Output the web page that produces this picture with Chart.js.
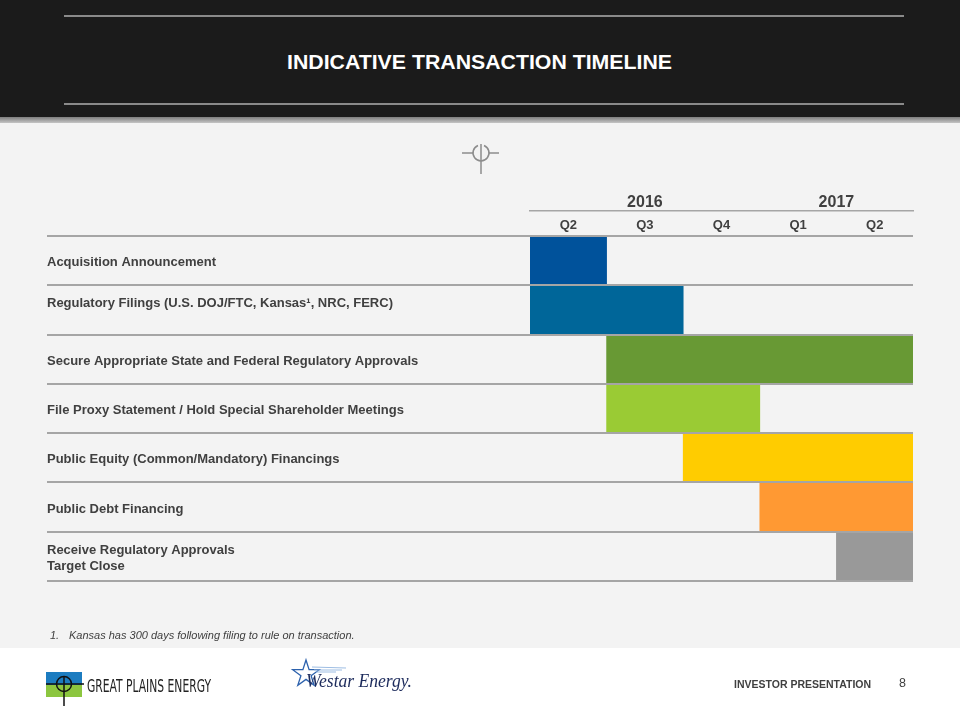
<!DOCTYPE html>
<html>
<head>
<meta charset="utf-8">
<script src="https://cdn.jsdelivr.net/npm/chart.js@4.4.1/dist/chart.umd.min.js"></script>
<style>
body{margin:0;width:960px;height:720px;position:relative;overflow:hidden;background:#fff;font-family:"Liberation Sans",Arial,sans-serif;}
#header{position:absolute;left:0;top:0;width:960px;height:118px;background:#1b1b1b;}
#shadow{position:absolute;left:0;top:117px;width:960px;height:6px;background:linear-gradient(#7e7e7e,#c4c4c4);}
#content{position:absolute;left:0;top:123px;width:960px;height:525px;background:#f3f3f3;}
.hline{position:absolute;left:64px;width:840px;height:2px;background:#8a8a8a;}
#top{position:absolute;left:0;top:0;}
#chartBox{position:absolute;left:0;top:123px;width:960px;height:525px;}
#note{position:absolute;left:50px;top:629px;font-size:11px;font-style:italic;color:#404040;}
#note span{display:inline-block;width:19px;}
#inv{position:absolute;left:734px;top:678px;font-size:10.5px;font-weight:bold;color:#404040;}
#page{position:absolute;left:899px;top:676px;font-size:12.5px;color:#404040;}
#logos{position:absolute;left:0;top:0;}
</style>
</head>
<body>
<div id="header"></div>
<div id="shadow"></div>
<div id="content"></div>
<div class="hline" style="top:15px"></div>
<div class="hline" style="top:103px"></div>

<!-- タイトルと小さいロゴマーク -->
<svg id="top" width="960" height="200">
  <text x="287" y="68.5" font-family="Liberation Sans, Arial, sans-serif" font-weight="bold" font-size="21" fill="#fff" textLength="385" lengthAdjust="spacingAndGlyphs">INDICATIVE TRANSACTION TIMELINE</text>
  <g stroke="#8c8c8c" stroke-width="1.5" fill="none">
    <line x1="462" y1="153" x2="473" y2="153"/>
    <line x1="489" y1="153" x2="499" y2="153"/>
    <path d="M 478 145.5 A 8 8 0 1 0 484 145.5"/>
    <line x1="481" y1="144" x2="481" y2="174"/>
  </g>
</svg>

<div id="chartBox"><canvas id="timeline" width="960" height="525"></canvas></div>

<div id="note"><span>1.</span>Kansas has 300 days following filing to rule on transaction.</div>

<!-- フッターのロゴ -->
<svg id="logos" width="960" height="720">
  <rect x="46" y="672" width="36" height="13" fill="#1c7cc0"/>
  <rect x="46" y="685" width="36" height="12" fill="#8cc63f"/>
  <line x1="46" y1="684" x2="84" y2="684" stroke="#111" stroke-width="1.5"/>
  <circle cx="64" cy="684" r="7.5" stroke="#111" stroke-width="1.5" fill="none"/>
  <line x1="64" y1="676" x2="64" y2="706" stroke="#111" stroke-width="1.5"/>
  <text x="87" y="692" font-family="Liberation Sans Narrow, DejaVu Sans Condensed, sans-serif" font-size="18" fill="#222" textLength="124" lengthAdjust="spacingAndGlyphs">GREAT PLAINS ENERGY</text>
  <polygon points="306,660 309.1,669.7 319.3,669.7 311.1,675.7 314.2,685.3 306,679.4 297.8,685.3 300.9,675.7 292.7,669.7 302.9,669.7" fill="none" stroke="#2d62ad" stroke-width="1.3"/>
  <g stroke="#9dbde3" stroke-width="1">
    <line x1="312" y1="667" x2="346" y2="668"/>
    <line x1="314" y1="670" x2="342" y2="670"/>
    <line x1="316" y1="672" x2="336" y2="672"/>
  </g>
  <text x="306" y="687" font-family="Liberation Serif, serif" font-style="italic" font-size="18" fill="#1d2b5c" textLength="106" lengthAdjust="spacingAndGlyphs">Westar Energy.</text>
</svg>

<div id="inv">INVESTOR PRESENTATION</div>
<div id="page">8</div>

<script>
// 行のラベル(2行目が空のものは上寄せに見せるため)
let tasks = [
  'Acquisition Announcement',
  ['Regulatory Filings (U.S. DOJ/FTC, Kansas\u00B9, NRC, FERC)', ''],
  'Secure Appropriate State and Federal Regulatory Approvals',
  'File Proxy Statement / Hold Special Shareholder Meetings',
  'Public Equity (Common/Mandatory) Financings',
  'Public Debt Financing',
  ['Receive Regulatory Approvals', 'Target Close']
];
// 開始と終了の四半期(0 = 2016 Q2)
let startQ = [0, 0, 1, 1, 2, 3, 4];
let endQ = [1, 2, 5, 3, 5, 5, 5];
let quarters = ['Q2', 'Q3', 'Q4', 'Q1', 'Q2'];
let years = ['2016', '2017'];
let quartersInYear = [3, 2];
let barColors = ['#00529b', '#006699', '#689934', '#9acb34', '#ffcc00', '#ff9933', '#999999'];

let textColor = '#404040';
let lineColor = '#a5a5a5';

// 年ラベルの位置(その年の四半期の真ん中)
let yearTicks = [];
let q = 0;
for (let i = 0; i < years.length; i++) {
  yearTicks.push(q + quartersInYear[i] / 2);
  q = q + quartersInYear[i];
}

let bars = [];
for (let i = 0; i < tasks.length; i++) {
  bars.push([startQ[i], endQ[i]]);
}

new Chart(document.getElementById('timeline'), {
  type: 'bar',
  data: {
    labels: tasks,
    datasets: [{
      data: bars,
      backgroundColor: barColors,
      borderWidth: 0,
      borderSkipped: false,
      categoryPercentage: 1,
      barPercentage: 1
    }]
  },
  options: {
    indexAxis: 'y',
    responsive: false,
    animation: false,
    events: [],
    layout: {padding: {left: 47, right: 47, top: 63, bottom: 67}},
    plugins: {legend: {display: false}, tooltip: {enabled: false}},
    scales: {
      x: {
        type: 'linear', position: 'top', min: 0, max: 5, weight: 0,
        afterBuildTicks: function(s) { s.ticks = quarters.map((name, i) => ({value: i + 0.5})); },
        afterFit: function(s) { s.height = 25; },
        grid: {display: false, drawTicks: false},
        border: {display: false},
        ticks: {
          autoSkip: false, maxRotation: 0, padding: 3, color: textColor,
          font: {family: 'Liberation Sans', size: 13, weight: 'bold'},
          callback: function(v, i) { return quarters[i]; }
        }
      },
      yr: {
        type: 'linear', axis: 'x', position: 'top', min: 0, max: 5, weight: 1,
        afterBuildTicks: function(s) { s.ticks = yearTicks.map(v => ({value: v})); },
        afterFit: function(s) { s.height = 25; },
        grid: {display: false, drawTicks: false},
        border: {display: true, color: lineColor, width: 1.5},
        ticks: {
          autoSkip: false, maxRotation: 0, padding: 0, color: textColor,
          font: {family: 'Liberation Sans', size: 16, weight: 'bold', lineHeight: 1.0},
          callback: function(v, i) { return years[i]; }
        }
      },
      y: {
        position: 'left',
        afterFit: function(s) { s.width = 483; },
        grid: {offset: true, tickLength: 483, color: lineColor, lineWidth: 2, z: 1},
        border: {display: false},
        ticks: {
          autoSkip: false, crossAlign: 'far', padding: 0, labelOffset: 2, color: textColor,
          font: {family: 'Liberation Sans', size: 13, weight: 'bold', lineHeight: 1.25}
        }
      }
    }
  }
});
</script>
</body>
</html>
